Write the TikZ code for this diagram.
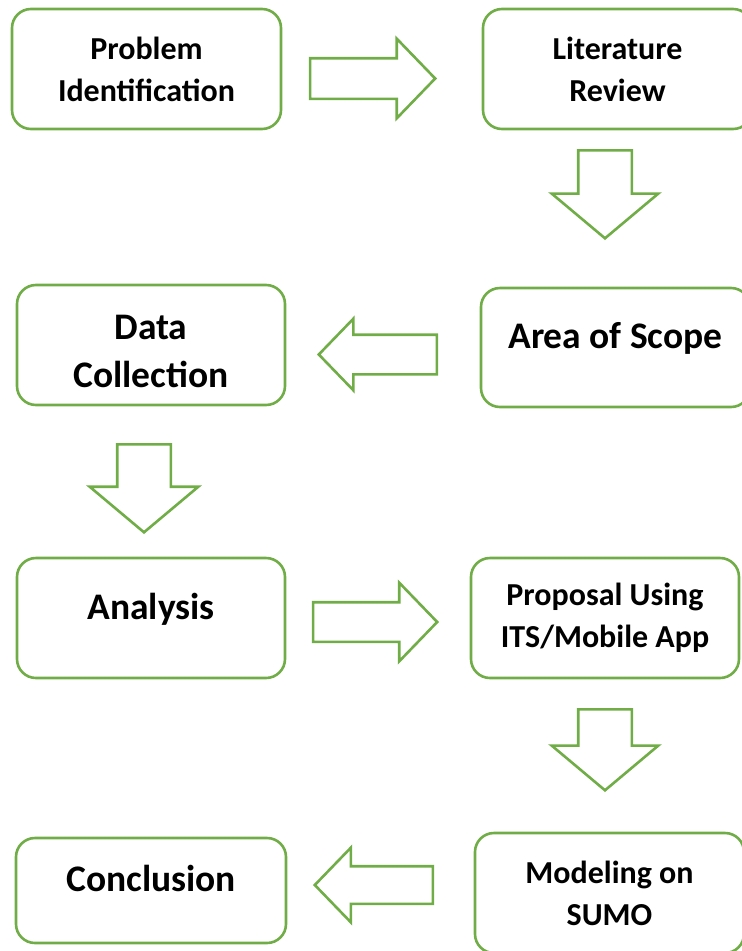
\documentclass[tikz,border=0pt]{standalone}
\usepackage{fontspec}
\setmainfont{Carlito}
\usetikzlibrary{shapes.arrows}

\definecolor{stepgreen}{HTML}{70AD47}

\tikzset{
  stepbox/.style={draw=stepgreen, line width=2.6pt, rounded corners=19pt,
    fill=white, inner sep=0pt, align=center, font=\bfseries\fontsize{32}{42}\selectfont},
  bigtext/.style={font=\bfseries\fontsize{37.5}{48}\selectfont},
  textup/.style={text height=24pt, text depth=22pt},
  blockarrow/.style={single arrow, draw=stepgreen, line width=2.6pt, fill=white,
    inner xsep=0pt, anchor=tip, single arrow tip angle=92},
}

\begin{document}
\begin{tikzpicture}[x=1pt, y=-1pt]
    \clip (0,0) rectangle (742,951);

    % --- process steps (center x, center y) ---
    \node[stepbox, minimum width=269pt, minimum height=120pt] (prob) at (146.5,69)
      {Problem\\Identification};
    \node[stepbox, minimum width=269pt, minimum height=120pt] (lit) at (617.5,69)
      {Literature\\Review};
    \node[stepbox, bigtext, text height=84pt, text depth=0pt, minimum width=268pt,
      minimum height=120pt] (data) at (151,345)
      {Data\\Collection};
    \node[stepbox, bigtext, textup, minimum width=269pt, minimum height=119pt] (scope) at (615.5,347.5)
      {Area of Scope};
    \node[stepbox, bigtext, textup, minimum width=268pt, minimum height=120pt] (anal) at (151,618)
      {Analysis};
    \node[stepbox, minimum width=268pt, minimum height=120pt] (prop) at (605,618)
      {Proposal Using\\ITS/Mobile App};
    \node[stepbox, bigtext, textup, minimum width=270pt, minimum height=105pt] (concl) at (151,890.5)
      {Conclusion};
    \node[stepbox, minimum width=269pt, minimum height=120pt] (model) at (609.5,893)
      {Modeling on\\SUMO};

    % --- block arrows between the steps, placed by their tips (shaft = 2 x inner ysep) ---
    \node[blockarrow, minimum height=125pt, inner ysep=19pt,
      single arrow head extend=19.5pt] (a1) at (437,78.5) {};
    \node[blockarrow, rotate=-90, single arrow tip angle=100, minimum height=88pt,
      inner ysep=25.5pt, single arrow head extend=26.5pt] (a2) at (605,240) {};
    \node[blockarrow, rotate=180, minimum height=118pt, inner ysep=18.5pt,
      single arrow head extend=16pt] (a3) at (317,354.5) {};
    \node[blockarrow, rotate=-90, single arrow tip angle=100, minimum height=88pt,
      inner ysep=25.5pt, single arrow head extend=27.5pt] (a4) at (144,534) {};
    \node[blockarrow, minimum height=124pt, inner ysep=18.5pt,
      single arrow head extend=19.5pt] (a5) at (439,622) {};
    \node[blockarrow, rotate=-90, single arrow tip angle=100, minimum height=81pt,
      inner ysep=25.5pt, single arrow head extend=26.5pt] (a6) at (605,792) {};
    \node[blockarrow, rotate=180, minimum height=118pt, inner ysep=17.5pt,
      single arrow head extend=18.5pt] (a7) at (313,885) {};
\end{tikzpicture}
\end{document}
